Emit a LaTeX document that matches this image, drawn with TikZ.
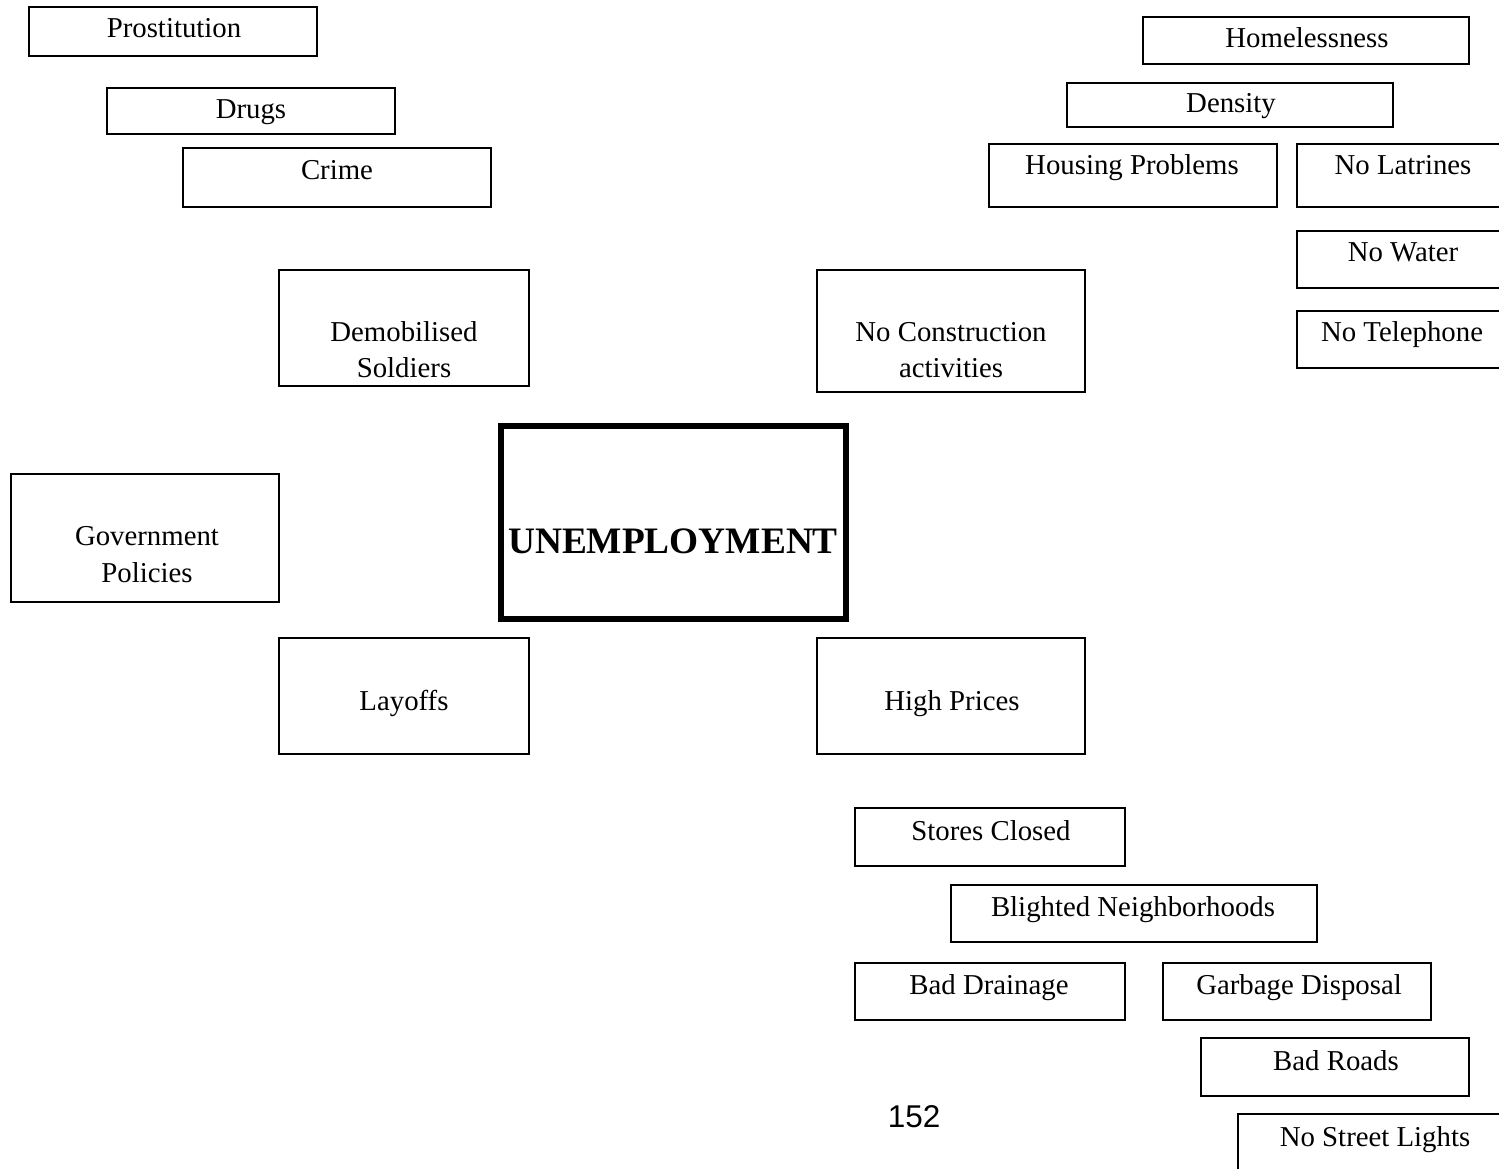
\documentclass[tikz,border=0pt]{standalone}
\usepackage{fontspec}
\setmainfont{Liberation Serif}
\newfontfamily\pagenumfont{Liberation Sans}
\usetikzlibrary{fit}
\begin{document}
\begin{tikzpicture}[x=0.375pt,y=-0.375pt,
  box/.style={draw, line width=0.8pt, inner sep=0pt},
  mainbox/.style={draw, line width=2pt, inner sep=0pt},
  lbl/.style={inner sep=0pt, anchor=base, align=center,
    font={\fontsize{10.8pt}{13.5pt}\selectfont}},
  mainlbl/.style={inner sep=0pt, anchor=base, font={\fontsize{14pt}{16pt}\selectfont\bfseries}},
  pnum/.style={inner sep=0pt, anchor=base, font={\fontsize{11.8pt}{13pt}\pagenumfont}}]
\useasboundingbox (0,0) rectangle (1499,1168);
\clip (0,0) rectangle (1499,1168);
% left top cluster
\node[box, fit={(29,7) (317,56)}] (prost) {};
\node[lbl] (prost-t) at (174,38) {Prostitution};
\node[box, fit={(107,88) (395,134)}] (drugs) {};
\node[lbl] (drugs-t) at (251,119) {Drugs};
\node[box, fit={(183,148) (491,207)}] (crime) {};
\node[lbl] (crime-t) at (337,180) {Crime};
% right top cluster
\node[box, fit={(1143,17) (1469,64)}] (homeless) {};
\node[lbl] (homeless-t) at (1307,48) {Homelessness};
\node[box, fit={(1067,83) (1393,127)}] (density) {};
\node[lbl] (density-t) at (1231,113) {Density};
\node[box, fit={(989,144) (1277,207)}] (housing) {};
\node[lbl] (housing-t) at (1132,175) {Housing Problems};
\node[box, fit={(1297,144) (1510,207)}] (latrines) {};
\node[lbl] (latrines-t) at (1403,175) {No Latrines};
\node[box, fit={(1297,231) (1510,288)}] (water) {};
\node[lbl] (water-t) at (1403,262) {No Water};
\node[box, fit={(1297,311) (1510,368)}] (phone) {};
\node[lbl] (phone-t) at (1402,342) {No Telephone};
% middle
\node[box, fit={(279,270) (529,386)}] (demob) {};
\node[lbl] (demob-t) at (404,378) {Demobilised\\Soldiers};
\node[box, fit={(817,270) (1085,392)}] (constr) {};
\node[lbl] (constr-t) at (951,378) {No Construction\\activities};
\node[box, fit={(11,474) (279,602)}] (gov) {};
\node[lbl] (gov-t) at (147,582) {Government\\Policies};
\node[mainbox, fit={(501,426) (846,619)}] (unemp) {};
\node[mainlbl] (unemp-t) at (673,553) {UNEMPLOYMENT};
\node[box, fit={(279,638) (529,754)}] (layoffs) {};
\node[lbl] (layoffs-t) at (404,710) {Layoffs};
\node[box, fit={(817,638) (1085,754)}] (prices) {};
\node[lbl] (prices-t) at (952,710) {High Prices};
% bottom right cluster
\node[box, fit={(855,808) (1125,866)}] (stores) {};
\node[lbl] (stores-t) at (991,840) {Stores Closed};
\node[box, fit={(951,885) (1317,942)}] (blight) {};
\node[lbl] (blight-t) at (1133,916) {Blighted Neighborhoods};
\node[box, fit={(855,963) (1125,1020)}] (drain) {};
\node[lbl] (drain-t) at (989,994) {Bad Drainage};
\node[box, fit={(1163,963) (1431,1020)}] (garbage) {};
\node[lbl] (garbage-t) at (1299,994) {Garbage Disposal};
\node[box, fit={(1201,1038) (1469,1096)}] (roads) {};
\node[lbl] (roads-t) at (1336,1070) {Bad Roads};
\node[box, fit={(1238,1114) (1512,1180)}] (lights) {};
\node[lbl] (lights-t) at (1375,1146) {No Street Lights};
% page number
\node[pnum] (pagenum) at (914,1127) {152};
\end{tikzpicture}
\end{document}
